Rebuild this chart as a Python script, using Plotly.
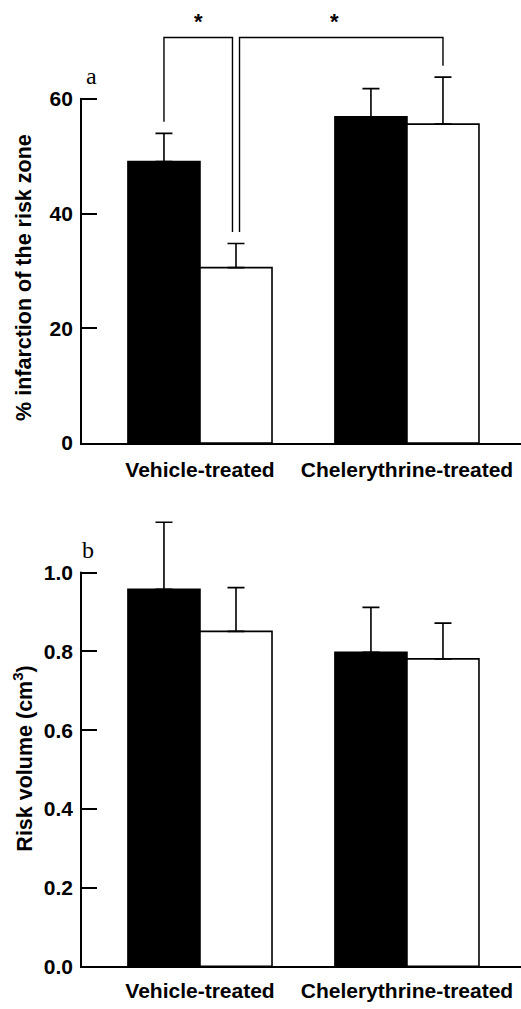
import plotly.graph_objects as go

# ---------------- data ----------------
groups = ["Vehicle-treated", "Chelerythrine-treated"]

# panel a: % infarction of the risk zone
infarct_black = [49.1, 56.9]
infarct_black_err = [4.9, 4.9]
infarct_white = [30.6, 55.6]
infarct_white_err = [4.2, 8.2]

# panel b: risk volume (cm3)
risk_black = [0.958, 0.798]
risk_black_err = [0.170, 0.114]
risk_white = [0.851, 0.781]
risk_white_err = [0.111, 0.091]

ticks_a = [0, 20, 40, 60]
ticks_b = [0.0, 0.2, 0.4, 0.6, 0.8, 1.0]

# ---------------- layout constants ----------------
W, H = 521, 1009
FONT = "Liberation Sans, Arial, Helvetica, sans-serif"
SERIF = "Liberation Serif, Times New Roman, serif"
LW = 1.7
XR = [-0.57, 1.551]
XDOM = [82 / W, 1.0]
YDOM_A = [1 - 448 / H, 1 - 10 / H]
YR_A = [0, 75.52]
YDOM_B = [1 - 977 / H, 1 - 499.4 / H]
YR_B = [0, 1.2]
BARGAP = 0.304
HALF = (1 - BARGAP) / 2  # bar width in category units


def to_paper(v, dom, rng):
    return dom[0] + (v - rng[0]) / (rng[1] - rng[0]) * (dom[1] - dom[0])


fig = go.Figure()

err_style = dict(type="data", symmetric=False, color="black", thickness=1.6, width=8.5)

for xa, ya, blk, blk_e, wht, wht_e in [
    ("x", "y", infarct_black, infarct_black_err, infarct_white, infarct_white_err),
    ("x2", "y2", risk_black, risk_black_err, risk_white, risk_white_err),
]:
    fig.add_trace(go.Bar(
        x=groups, y=blk, xaxis=xa, yaxis=ya, showlegend=False,
        marker=dict(color="black", line=dict(color="black", width=1.6)),
        error_y=dict(array=blk_e, arrayminus=[0] * len(blk_e), **err_style),
    ))
    fig.add_trace(go.Bar(
        x=groups, y=wht, xaxis=xa, yaxis=ya, showlegend=False,
        marker=dict(color="white", line=dict(color="black", width=1.6)),
        error_y=dict(array=wht_e, arrayminus=[0] * len(wht_e), **err_style),
    ))

axis_common = dict(showgrid=False, zeroline=False, showline=True, linecolor="black",
                   linewidth=LW)
tickfont = dict(family=FONT, size=21, color="black", weight="bold")
xtickfont = dict(family=FONT, size=21, color="black", weight="bold")

fig.update_layout(
    width=W, height=H, margin=dict(l=0, r=0, t=0, b=0),
    paper_bgcolor="white", plot_bgcolor="white",
    barmode="group", bargap=BARGAP, bargroupgap=0,
    xaxis=dict(domain=XDOM, range=XR, anchor="y", ticks="", tickfont=xtickfont,
               ticklabelstandoff=7, **axis_common),
    yaxis=dict(domain=YDOM_A, range=YR_A, anchor="x", tickvals=ticks_a, ticks="inside",
               ticklen=15, tickwidth=LW, tickcolor="black", tickfont=tickfont,
               ticklabelstandoff=3, **axis_common),
    xaxis2=dict(domain=XDOM, range=XR, anchor="y2", ticks="", tickfont=xtickfont,
                ticklabelstandoff=5, **axis_common),
    yaxis2=dict(domain=YDOM_B, range=YR_B, anchor="x2", tickvals=ticks_b, tickformat=".1f",
                ticks="inside", ticklen=15, tickwidth=LW, tickcolor="black", tickfont=tickfont,
                ticklabelstandoff=3, **axis_common),
)

# hide y-axis line above the top tick (axis line stops at 60 / 1.0)
for dom, rng, top in [(YDOM_A, YR_A, ticks_a[-1]), (YDOM_B, YR_B, ticks_b[-1])]:
    fig.add_shape(type="rect", xref="paper", yref="paper", layer="above",
                  x0=XDOM[0] - 6 / W, x1=XDOM[0] + 1.5 / W,
                  y0=to_paper(top, dom, rng) + 1 / H, y1=dom[1] + 0.01,
                  fillcolor="white", line=dict(width=0))

# significance brackets (panel a)
black_c = [i - HALF / 2 for i in range(len(groups))]
white_c = [i + HALF / 2 for i in range(len(groups))]
gap = 2.0
y_top = 70.7
d = 0.017
bracket1 = [(black_c[0], infarct_black[0] + infarct_black_err[0] + gap),
            (black_c[0], y_top), (white_c[0] - d, y_top),
            (white_c[0] - d, infarct_white[0] + infarct_white_err[0] + gap)]
bracket2 = [(white_c[0] + d, infarct_white[0] + infarct_white_err[0] + gap),
            (white_c[0] + d, y_top), (white_c[1], y_top),
            (white_c[1], infarct_white[1] + infarct_white_err[1] + gap)]
star_x = [(bracket1[1][0] + bracket1[2][0]) / 2, 1 - HALF]
for br, xs in zip([bracket1, bracket2], star_x):
    path = "M " + " L ".join(f"{x},{y}" for x, y in br)
    fig.add_shape(type="path", path=path, xref="x", yref="y",
                  line=dict(color="black", width=1.4))
    fig.add_annotation(x=xs, y=y_top, xref="x", yref="y", text="*", showarrow=False,
                       yanchor="middle", yshift=16,
                       font=dict(family=FONT, size=22, color="black", weight="bold"))

# panel letters
fig.add_annotation(x=91 / W, y=1 - 77 / H, xref="paper", yref="paper", text="a",
                   showarrow=False, xanchor="center", yanchor="middle",
                   font=dict(family=SERIF, size=24, color="black"))
fig.add_annotation(x=88 / W, y=1 - 556 / H, xref="paper", yref="paper", text="b",
                   showarrow=False, xanchor="center", yanchor="middle",
                   font=dict(family=SERIF, size=24, color="black"))

# y-axis titles
fig.add_annotation(x=24 / W, y=1 - 281 / H, xref="paper", yref="paper",
                   text="% infarction of the risk zone", textangle=-90, showarrow=False,
                   xanchor="center", yanchor="middle",
                   font=dict(family=FONT, size=21.5, color="black", weight="bold"))
fig.add_annotation(x=23 / W, y=1 - 767 / H, xref="paper", yref="paper",
                   text="Risk volume (cm<sup>3</sup>)", textangle=-90, showarrow=False,
                   xanchor="center", yanchor="middle",
                   font=dict(family=FONT, size=21.5, color="black", weight="bold"))

fig.write_html("out.html", config={"displayModeBar": False},
               post_script="document.body.style.margin='0';document.body.style.overflow='hidden';")
